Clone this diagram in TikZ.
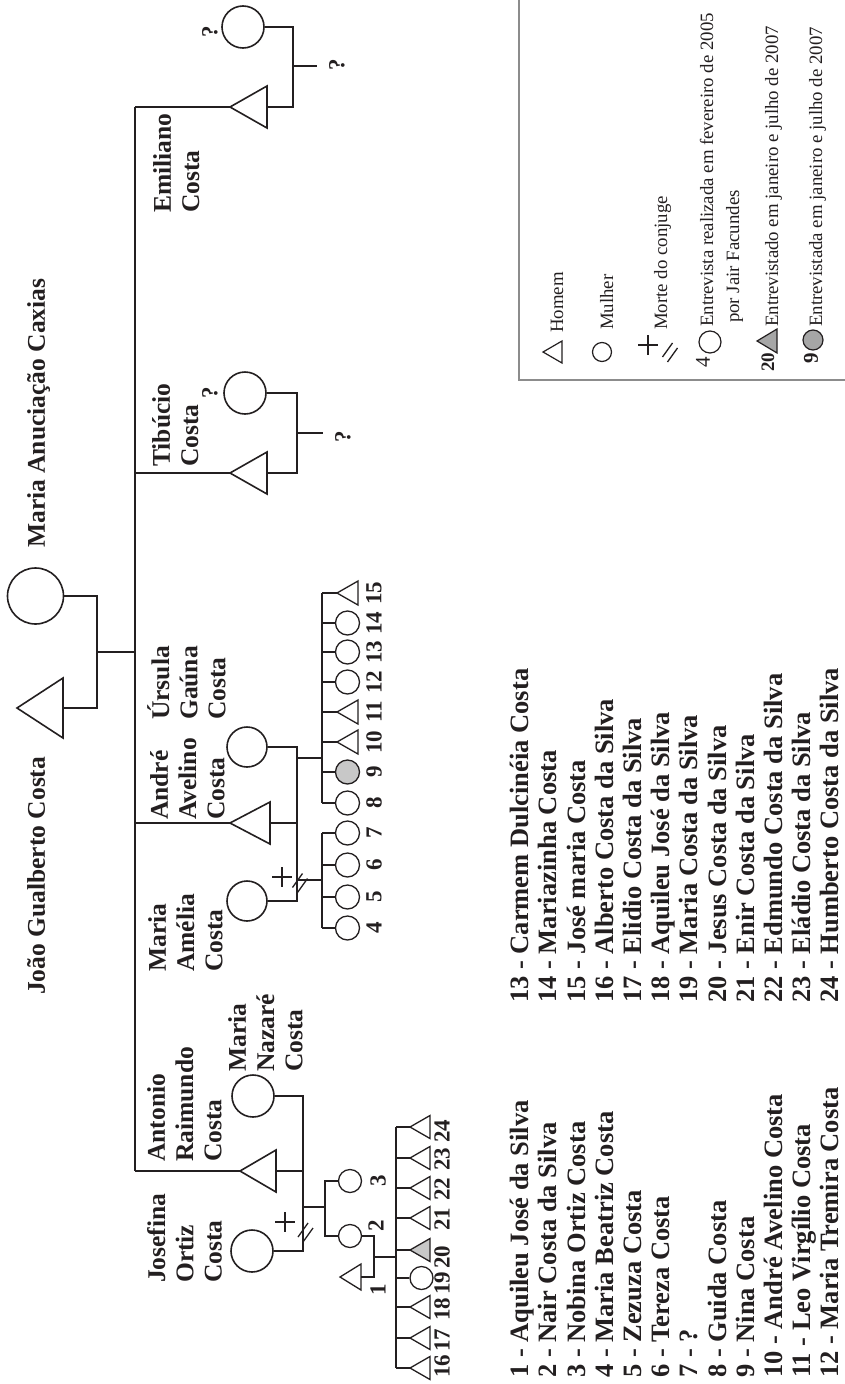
\documentclass[tikz,border=0pt]{standalone}
\usepackage{fontspec}
\setmainfont{Liberation Serif}
\definecolor{ink}{HTML}{231F20}
\definecolor{lgray}{HTML}{C8C8C8}
\definecolor{mgray}{HTML}{A6A6A6}
\definecolor{boxgray}{HTML}{8C8C8C}
\newcommand\mytri[6][]{%
  \coordinate (#2-a) at (#3,-#4);
  \coordinate (#2-b) at ({#3+#5},-#4);
  \draw[shp,#1] (#2-a) -- ({#3+#5},{-#4+#6}) -- ({#3+#5},{-#4-#6}) -- cycle;}
\newcommand\mycross[2]{%
  \draw[crossln] ({#1-10},-#2) -- ({#1+10},-#2) ({#1},{-#2+10}) -- ({#1},{-#2-10});}
\newcommand\myslash[2]{%
  \draw[slashln] ({#1-7.5},{-#2-4.5}) -- ({#1+2.5},{-#2+9.5}) ({#1-2.5},{-#2-9.5}) -- ({#1+7.5},{-#2+4.5});}
\begin{document}
\begin{tikzpicture}[x=1pt,y=1pt,
  ln/.style={line width=2pt,draw=ink},
  br/.style={line width=1.6pt,draw=ink},
  kid/.style={line width=1.3pt,draw=ink},
  kidw/.style={line width=1.3pt},
  shp/.style={line width=1.6pt,draw=ink,fill=white},
  crossln/.style={line width=2.8pt,draw=ink},
  slashln/.style={line width=1.3pt,draw=ink},
  lbl/.style={rotate=90,inner sep=0pt,font=\bfseries\fontsize{25.5}{28.2}\selectfont,align=left,anchor=north west,text=ink},
  lst/.style={rotate=90,inner sep=0pt,font=\bfseries\fontsize{26.5}{28.2}\selectfont,align=left,anchor=north west,text=ink},
  num/.style={rotate=90,inner sep=0pt,font=\bfseries\fontsize{23}{24}\selectfont,text=ink},
  leg/.style={rotate=90,inner sep=0pt,font=\fontsize{18.8}{26}\selectfont,anchor=base west,text=ink},
  circ/.style={circle,shp,inner sep=0pt,minimum size=#1},
]
\useasboundingbox (0,0) rectangle (845,-1384);
\fill[white] (0,0) rectangle (845,-1384);

% ---------- first generation ----------
\mytri{jgc}{17}{708}{46}{30}
\node[circ=56pt] (mac) at (35.5,-596) {};
\coordinate (pm) at (97,-652);
\coordinate (sp) at (135,-652);
\draw[br] (jgc-b) -| (pm);
\draw[br] (mac.east) -| (pm);
\draw[ln] (pm) -- (sp);
\node[lbl] (tjgc) at (27,-995) {João Gualberto Costa};
\node[lbl] (tmac) at (27,-548) {Maria Anuciação Caxias};

% ---------- spine ----------
\coordinate (sptop) at (135,-107);
\coordinate (spbot) at (135,-1171);
\coordinate (sptib) at (135,-473);
\coordinate (spand) at (135,-823);
\draw[ln] (sptop) -- (spbot);

% ---------- Emiliano ----------
\mytri{emi}{230}{107}{37}{21}
\node[circ=42pt] (emiw) at (243,-27) {};
\coordinate (emij) at (293,-66);
\coordinate (emiq) at (317,-66);
\draw[ln] (sptop) -- (emi-a);
\draw[br] (emiw.east) -| (emij);
\draw[br] (emi-b) -| (emij);
\draw[br] (emij) -- (emiq);
\node[num] (q1) at (337,-65) {?};
\node[num] (q2) at (210,-32) {?};
\node[lbl] (temi) at (153,-213) {Emiliano\\Costa};

% ---------- Tibucio ----------
\mytri{tib}{230}{473}{37}{21}
\node[circ=42pt] (tibw) at (245,-393) {};
\coordinate (tibj) at (297,-433);
\coordinate (tibq) at (323,-433);
\draw[ln] (sptib) -- (tib-a);
\draw[br] (tibw.east) -| (tibj);
\draw[br] (tib-b) -| (tibj);
\draw[br] (tibj) -- (tibq);
\node[num] (q3) at (343,-437) {?};
\node[num] (q4) at (210,-393) {?};
\node[lbl] (ttib) at (152,-467) {Tibúcio\\Costa};

% ---------- Andre ----------
\mytri{and}{230}{823}{40}{21}
\node[circ=40pt] (urs) at (247,-747) {};
\node[circ=40pt] (ame) at (247,-901) {};
\draw[ln] (spand) -- (and-a);
\coordinate (andt) at (297,-747);
\coordinate (andb) at (297,-901);
\draw[br] (urs.east) -- (andt) -- (andb) -- (ame.east);
\draw[br] (and-b) -- (297,-823);
\coordinate (uj) at (297,-758);
\coordinate (ub) at (322,-758);
\coordinate (aj) at (297,-880);
\coordinate (ab) at (322,-880);
\draw[br] (uj) -- (ub);
\draw[br] (aj) -- (ab);
\draw[kid] (322,-593) -- (322,-803);
\draw[kid] (322,-833) -- (322,-928);
\mycross{282}{877}
\myslash{300}{883}
\node[lbl] (tame) at (148,-972) {Maria\\Amélia\\Costa};
\node[lbl] (tand) at (150,-820) {André\\Avelino\\Costa};
\node[lbl] (turs) at (147,-720) {Úrsula\\Gaúna\\Costa};

% children 4-15
\mytri[kidw]{c15}{337}{593}{21}{12}
\mytri[kidw]{c11}{337}{712}{21}{12}
\mytri[kidw]{c10}{337}{742}{21}{12}
\draw[kid] (322,-593) -- (c15-a);
\draw[kid] (322,-712) -- (c11-a);
\draw[kid] (322,-742) -- (c10-a);
\foreach \n/\y in {14/623,13/652,12/682,8/803,7/833,6/865,5/897,4/928}{
  \node[circ=24pt,kidw] (c\n) at (347.5,-\y) {};
  \draw[kid] (322,-\y) -- (c\n.west);
}
\node[circ=24pt,kidw,fill=lgray] (c9) at (347.5,-772) {};
\draw[kid] (322,-772) -- (c9.west);
\foreach \n/\y in {4/928,5/897,6/865,7/833,8/803,9/772,10/742,11/712,12/682,13/652,14/623,15/593}{
  \node[num] (l\n) at (374,-\y) {\n};
}

% ---------- Antonio ----------
\mytri{ant}{240}{1171}{36}{21}
\node[circ=42pt] (naz) at (253,-1096) {};
\node[circ=42pt] (jos) at (252,-1251) {};
\draw[ln] (spbot) -- (ant-a);
\coordinate (ant1) at (303,-1096);
\coordinate (ant2) at (303,-1251);
\draw[br] (naz.east) -- (ant1) -- (ant2) -- (jos.east);
\draw[br] (ant-b) -- (303,-1171);
\coordinate (antj) at (303,-1207);
\coordinate (antk) at (325,-1207);
\draw[br] (antj) -- (antk);
\mycross{285}{1222}
\myslash{305.5}{1232.5}
\node[circ=23pt,kidw] (k3) at (350,-1181) {};
\node[circ=23pt,kidw] (k2) at (350,-1236) {};
\draw[kid] (k3.west) -| (antk) |- (k2.west);
\mytri[kidw]{k1}{340}{1277}{21}{13}
\coordinate (aqj) at (374,-1257);
\coordinate (aqb) at (396,-1257);
\draw[kid] (k2.east) -| (aqj);
\draw[kid] (k1-b) -| (aqj);
\draw[kid] (aqj) -- (aqb);
\draw[kid] (396,-1127) -- (396,-1368);
\node[num] (n1) at (378,-1290) {1};
\node[num] (n2) at (376,-1226) {2};
\node[num] (n3) at (378,-1181) {3};
\node[lbl] (tjos) at (147,-1283) {Josefina\\Ortiz\\Costa};
\node[lbl] (tant) at (147,-1162) {Antonio\\Raimundo\\Costa};
\node[lbl] (tnaz) at (228,-1072) {Maria\\Nazaré\\Costa};

% children 16-24
\foreach \n/\y in {24/1127,23/1158,22/1188,21/1218,18/1307,17/1338,16/1368}{
  \mytri[kidw]{g\n}{410}{\y}{20}{11.5}
  \draw[kid] (396,-\y) -- (g\n-a);
}
\mytri[kidw,fill=lgray]{g20}{410}{1250}{20}{11.5}
\draw[kid] (396,-1250) -- (g20-a);
\node[circ=23pt,kidw] (g19) at (421.5,-1278) {};
\draw[kid] (396,-1278) -- (g19.west);
\foreach \n/\y in {16/1366,17/1340,18/1309,19/1283,20/1257,21/1219,22/1189,23/1159,24/1131}{
  \node[num] (m\n) at (442,-\y) {\n};
}

% ---------- lists ----------
\node[lst] (list1) at (510,-1378) {1 - Aquileu José da Silva\\2 - Nair Costa da Silva\\3 - Nobina Ortiz Costa\\4 - Maria Beatriz Costa\\5 - Zezuza Costa\\6 - Tereza Costa\\7 - ?\\8 - Guida Costa\\9 - Nina Costa\\10 - André Avelino Costa\\11 - Leo Virgílio Costa\\12 - Maria Tremira Costa};
\node[lst] (list2) at (510,-1003) {13 - Carmem Dulcinéia Costa\\14 - Mariazinha Costa\\15 - José maria Costa\\16 - Alberto Costa da Silva\\17 - Elidio Costa da Silva\\18 - Aquileu José da Silva\\19 - Maria Costa da Silva\\20 - Jesus Costa da Silva\\21 - Enir Costa da Silva\\22 - Edmundo Costa da Silva\\23 - Eládio Costa da Silva\\24 - Humberto Costa da Silva};

% ---------- legend ----------
\draw[line width=1.2pt,boxgray] (519,0) -- (519,-380) -- (845,-380);
\mytri[line width=1.2pt]{lgt}{543}{352}{19}{11}
\node[leg] (lh) at (563,-333) {Homem};
\node[circ=19pt,line width=1.2pt] (lgc) at (602,-352) {};
\node[leg] (lmu) at (613,-330) {Mulher};
\mycross{648}{345}
\myslash{670}{352.5}
\node[leg] (lmc) at (667,-330) {Morte do conjuge};
\node[rotate=90,inner sep=0pt,font=\fontsize{21}{22}\selectfont,text=ink] (l4n) at (703,-362) {4};
\node[circ=22pt,line width=1.2pt] (l4c) at (710,-342) {};
\node[leg] (le1) at (713,-327) {Entrevista realizada em fevereiro de 2005};
\node[leg] (le2) at (739,-323) {por Jair Facundes};
\node[rotate=90,inner sep=0pt,font=\bfseries\fontsize{19}{20}\selectfont,text=ink] (l20n) at (768,-362) {20};
\mytri[line width=1.2pt,fill=mgray]{lgg}{757}{341}{20}{12}
\node[leg] (le3) at (778,-327) {Entrevistado em janeiro e julho de 2007};
\node[rotate=90,inner sep=0pt,font=\bfseries\fontsize{21}{22}\selectfont,text=ink] (l9n) at (811,-358) {9};
\node[circ=20pt,line width=1.2pt,fill=mgray] (l9c) at (813,-340) {};
\node[leg] (le4) at (822,-327) {Entrevistada em janeiro e julho de 2007};
\end{tikzpicture}
\end{document}
